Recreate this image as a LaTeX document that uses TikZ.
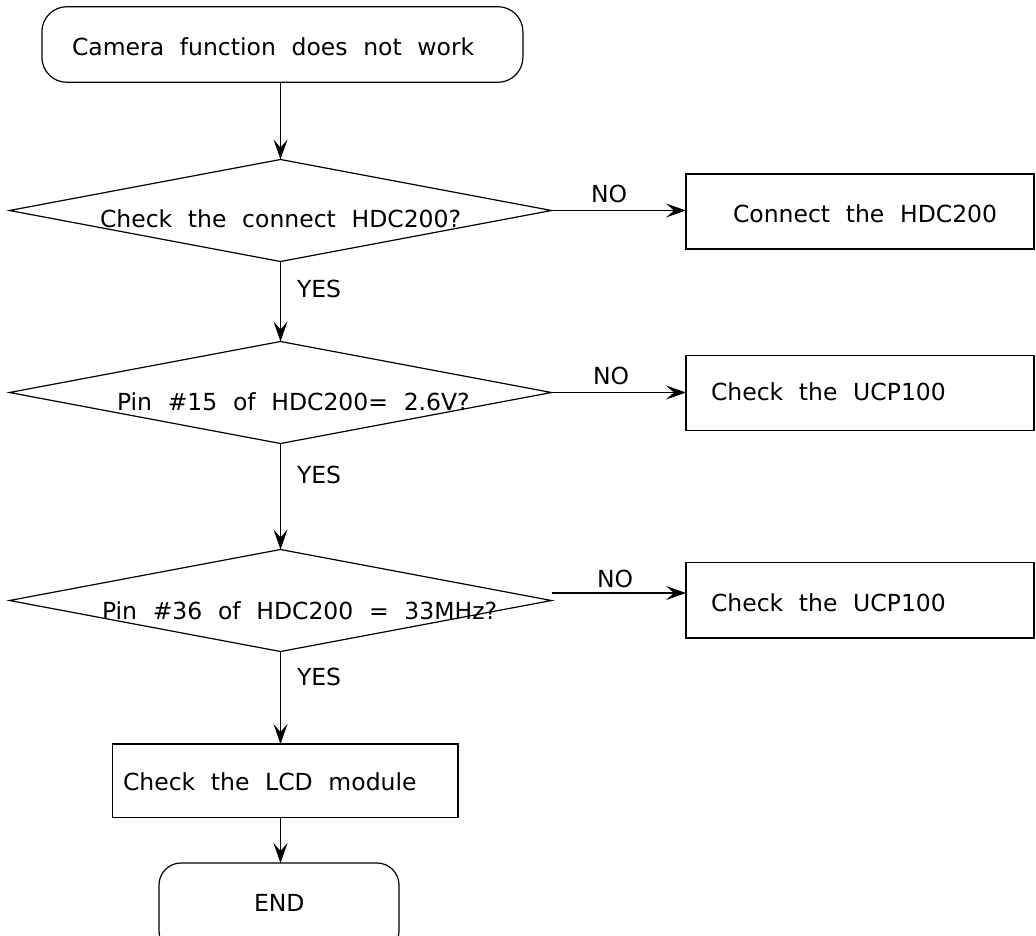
\documentclass[tikz,border=0pt]{standalone}
\usepackage{fontspec}
\setmainfont{DejaVu Sans}[WordSpace=2.1]
\usetikzlibrary{shapes.geometric,arrows.meta}
\begin{document}
\begin{tikzpicture}[x=1pt,y=-1pt,
  every node/.style={font=\fontsize{23.5}{28}\selectfont, outer sep=0pt},
  lbl/.style={anchor=base west, inner sep=0pt},
  dec/.style={draw, diamond, inner sep=0pt, minimum width=542pt, minimum height=102pt},
  boxn/.style={draw, rectangle, inner sep=0pt},
  term/.style={draw, rectangle, rounded corners=25pt, inner sep=0pt},
  arr/.style={-{Stealth[length=20pt,width=14pt,inset=8pt]}},
  line width=1.2pt]
\useasboundingbox (0,0) rectangle (1036,935);
% shapes
\node[term, minimum width=481pt, minimum height=75.6pt] (start) at (282.4,44.5) {};
\node[dec] (d1) at (280.5,210.5) {};
\node[dec] (d2) at (280.5,392.5) {};
\node[dec] (d3) at (280.5,600.5) {};
\node[boxn, minimum width=348pt, minimum height=75pt] (b1) at (860,211.5) {};
\node[boxn, minimum width=348pt, minimum height=75pt] (b2) at (860,393.2) {};
\node[boxn, minimum width=348pt, minimum height=75.3pt] (b3) at (860,600.3) {};
\node[boxn, minimum width=345.3pt, minimum height=73.7pt] (lcd) at (285.3,780.8) {};
\node[term, rounded corners=22pt, minimum width=240pt, minimum height=90pt] (end) at (279,908) {};
% texts
\node[lbl] (tstart) at (72,55) {Camera function does not work};
\node[lbl] (td1) at (100,227) {Check the connect HDC200?};
\node[lbl] (td2) at (117,410) {Pin \#15 of HDC200= 2.6V?};
\node[lbl] (td3) at (102,619) {Pin \#36 of HDC200 = 33MHz?};
\node[lbl] (tb1) at (733,222.7) {Connect the HDC200};
\node[lbl] (tb2) at (711,400) {Check the UCP100};
\node[lbl] (tb3) at (711,611.7) {Check the UCP100};
\node[lbl] (tlcd) at (123,790) {Check the LCD module};
\node[lbl] (tend) at (254,911.7) {END};
\node[lbl] (yes1) at (297,297) {YES};
\node[lbl] (yes2) at (297,483.3) {YES};
\node[lbl] (yes3) at (297,685) {YES};
\node[lbl] (no1) at (591,202) {NO};
\node[lbl] (no2) at (593,384) {NO};
\node[lbl] (no3) at (597,587) {NO};
% connectors
\coordinate (n3) at ([yshift=7.5pt]d3.east);
\draw[arr] (d1.north |- start.south) -- (d1.north);
\draw[arr] (d1.south) -- (d2.north);
\draw[arr] (d2.south) -- (d3.north);
\draw[arr] (d3.south) -- (d3.south |- lcd.north);
\draw[arr] (d3.south |- lcd.south) -- (d3.south |- end.north);
\draw[arr] (d1.east) -- (b1.west |- d1.east);
\draw[arr] (d2.east) -- (b2.west |- d2.east);
\draw[arr] (n3) -- (b3.west |- n3);
\end{tikzpicture}
\end{document}
